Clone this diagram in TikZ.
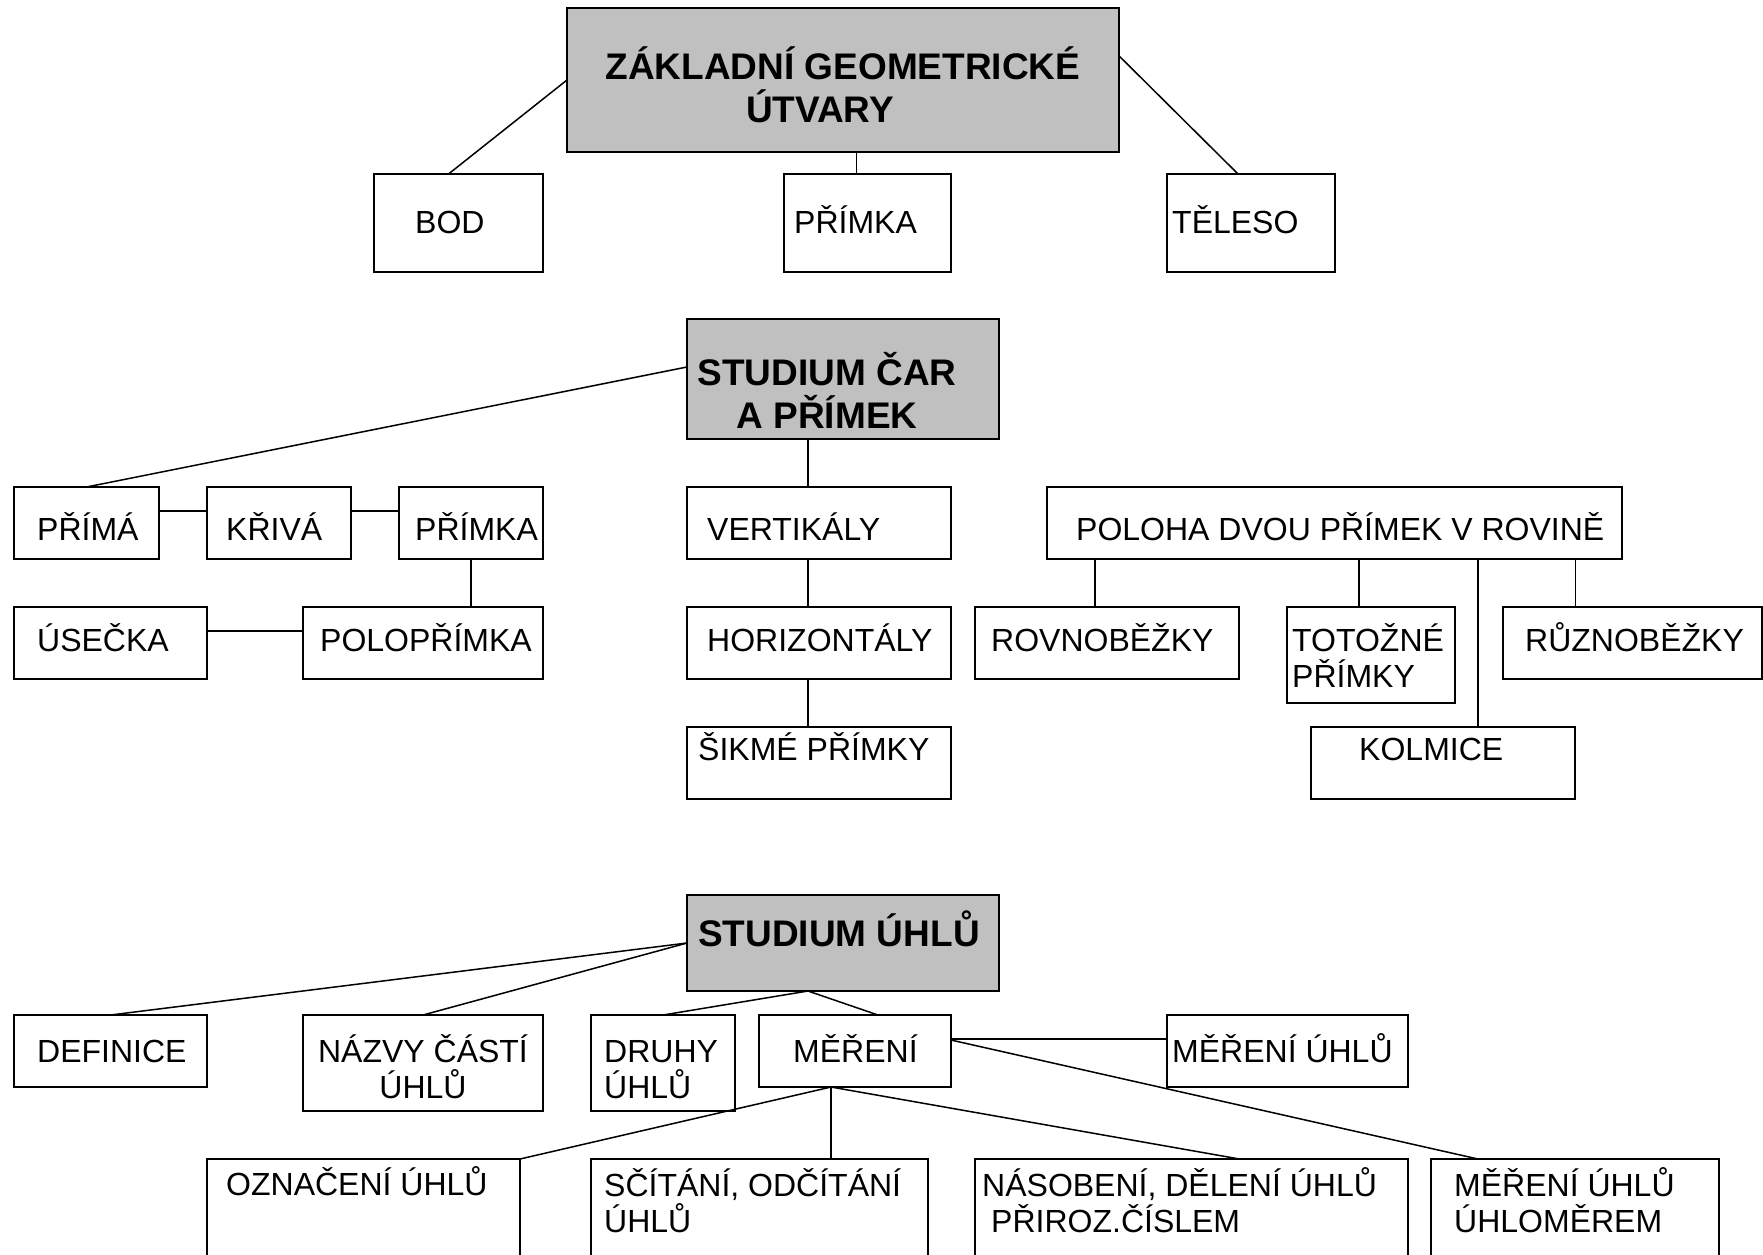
\documentclass[tikz,border=0pt]{standalone}
\usepackage{fontspec}
\setmainfont{Liberation Sans}
\usetikzlibrary{positioning,calc}
\definecolor{headgray}{RGB}{192,192,192}
\tikzset{
	box/.style={draw=black, line width=1.8pt, anchor=north west, inner sep=0pt, outer sep=0pt},
	headbox/.style={box, fill=headgray},
	txt/.style={anchor=base west, inner sep=0pt, align=left, font=\fontsize{32}{36}\selectfont},
	headtxt/.style={anchor=base, inner sep=0pt, align=center, font=\fontsize{37}{43}\selectfont\bfseries},
	link/.style={line width=1.5pt},
}
\begin{document}
\begin{tikzpicture}[x=1pt,y=-1pt]
		\useasboundingbox (0,0) rectangle (1763,1254);
		% zakladni utvary
		\node[headbox, minimum width=552, minimum height=144] (zakl) at (567,8) {};
		\node[box, minimum width=169, minimum height=98] (bod) at (374,174) {};
		\node[box, minimum width=167, minimum height=98] (primka) at (784,174) {};
		\node[box, minimum width=168, minimum height=98] (teleso) at (1167,174) {};
		
		\node[headtxt] (zaklt) at (843,122) {ZÁKLADNÍ GEOMETRICKÉ\\ÚTVARY\hspace*{46pt}};
		\node[txt] (bodt) at (415,233) {BOD};
		\node[txt] (primkat) at (794,233) {PŘÍMKA};
		\node[txt] (telesot) at (1172,233) {TĚLESO};
		
		\draw[link] (zakl.west)--([xshift=-10pt]bod.north);
		\draw[link] (zakl.5)--([xshift=-13pt]teleso.north);
		\draw[link] ([xshift=-11pt]primka.north)--([xshift=-11pt]primka.north |- zakl.south);
		
		% cary a primky
		\node[headbox, minimum width=312, minimum height=120] (car) at (687,319) {};
		\node[box, minimum width=145, minimum height=72] (prima) at (14,487) {};
		\node[box, minimum width=144, minimum height=72, right=48pt of prima] (kriva) {};
		\node[box, minimum width=144, minimum height=72, right=48pt of kriva] (primkab) {};
		\node[box, minimum width=193, minimum height=72] (usecka) at (14,607) {};
		\node[box, minimum width=240, minimum height=72] (polo) at (303,607) {};
		\node[box, minimum width=264, minimum height=72] (vert) at (687,487) {};
		\node[box, minimum width=264, minimum height=72, below=48pt of vert] (horiz) {};
		\node[box, minimum width=264, minimum height=72, below=48pt of horiz] (sikme) {};
		\node[box, minimum width=575, minimum height=72] (poloha) at (1047,487) {};
		\node[box, minimum width=264, minimum height=72] (rovno) at (975,607) {};
		\node[box, minimum width=168, minimum height=96] (totoz) at (1287,607) {};
		\node[box, minimum width=259, minimum height=72] (ruzno) at (1503,607) {};
		\node[box, minimum width=264, minimum height=72] (kolm) at (1311,727) {};
		
		\node[headtxt] (cart) at (827,428) {STUDIUM ČAR\\A PŘÍMEK};
		\node[txt] (primat) at (37,540) {PŘÍMÁ};
		\node[txt] (krivat) at (226,540) {KŘIVÁ};
		\node[txt] (primkabt) at (415,540) {PŘÍMKA};
		\node[txt] (useckat) at (37,651) {ÚSEČKA};
		\node[txt] (polot) at (320,651) {POLOPŘÍMKA};
		\node[txt] (vertt) at (707,540) {VERTIKÁLY};
		\node[txt] (horizt) at (707,651) {HORIZONTÁLY};
		\node[txt] (sikmet) at (698,760) {ŠIKMÉ PŘÍMKY};
		\node[txt] (polohat) at (1076,540) {POLOHA DVOU PŘÍMEK V ROVINĚ};
		\node[txt] (rovnot) at (991,651) {ROVNOBĚŽKY};
		\node[txt] (totozt) at (1292,687) {TOTOŽNÉ\\PŘÍMKY};
		\node[txt] (ruznot) at (1525,651) {RŮZNOBĚŽKY};
		\node[txt] (kolmt) at (1359,760) {KOLMICE};
		
		\draw[link] ([yshift=12pt]car.west)--(prima.north);
		\draw[link] ([yshift=12pt]prima.east)--([yshift=12pt]kriva.west);
		\draw[link] ([yshift=12pt]kriva.east)--([yshift=12pt]primkab.west);
		\draw[link] (primkab.south)--(primkab.south |- polo.north);
		\draw[link] ([yshift=12pt]usecka.east)--([yshift=12pt]usecka.east -| polo.west);
		\draw[link] ([xshift=-11pt]vert.north)--([xshift=-11pt]vert.north |- car.south);
		\draw[link] ([xshift=-11pt]vert.south)--([xshift=-11pt]horiz.north);
		\draw[link] ([xshift=-11pt]horiz.south)--([xshift=-11pt]sikme.north);
		\draw[link] ([xshift=-12pt]rovno.north)--([xshift=-12pt]rovno.north |- poloha.south);
		\draw[link] ([xshift=-12pt]totoz.north)--([xshift=-12pt]totoz.north |- poloha.south);
		\draw[link] ([xshift=35pt]kolm.north)--([xshift=35pt]kolm.north |- poloha.south);
		\draw[link] ([xshift=-57pt]ruzno.north)--([xshift=-57pt]ruzno.north |- poloha.south);
		
		% uhly
		\node[headbox, minimum width=312, minimum height=96] (uhly) at (687,895) {};
		\node[box, minimum width=193, minimum height=72] (defin) at (14,1015) {};
		\node[box, minimum width=240, minimum height=96] (nazvy) at (303,1015) {};
		\node[box, minimum width=144, minimum height=96] (druhy) at (591,1015) {};
		\node[box, minimum width=192, minimum height=72] (mereni) at (759,1015) {};
		\node[box, minimum width=241, minimum height=72] (merb) at (1167,1015) {};
		\node[box, minimum width=313, minimum height=120] (ozn) at (207,1159) {};
		\node[box, minimum width=337, minimum height=120] (scit) at (591,1159) {};
		\node[box, minimum width=433, minimum height=120] (nasob) at (975,1159) {};
		\node[box, minimum width=288, minimum height=120] (uhlomer) at (1431,1159) {};
		
		\node[headtxt, anchor=base west] (uhlyt) at (698,946) {STUDIUM ÚHLŮ};
		\node[txt] (defint) at (37,1062) {DEFINICE};
		\node[txt, anchor=base, align=center] (nazvyt) at (423,1098) {NÁZVY ČÁSTÍ\\ÚHLŮ};
		\node[txt] (druhyt) at (604,1098) {DRUHY\\ÚHLŮ};
		\node[txt] (merenit) at (793,1062) {MĚŘENÍ};
		\node[txt] (merbt) at (1172,1062) {MĚŘENÍ ÚHLŮ};
		\node[txt] (oznt) at (226,1195) {OZNAČENÍ ÚHLŮ};
		\node[txt] (scitt) at (604,1232) {SČÍTÁNÍ, ODČÍTÁNÍ\\ÚHLŮ};
		\node[txt] (nasobt) at (982,1232) {NÁSOBENÍ, DĚLENÍ ÚHLŮ\\\hspace*{9pt}PŘIROZ.ČÍSLEM};
		\node[txt] (uhlomert) at (1454,1232) {MĚŘENÍ ÚHLŮ\\ÚHLOMĚREM};
		
		\draw[link] (uhly.west)--(defin.north);
		\draw[link] (uhly.west)--(nazvy.north);
		\draw[link] ([xshift=-35pt]uhly.south)--(druhy.north);
		\draw[link] ([xshift=-35pt]uhly.south)--([xshift=23pt]mereni.north);
		\draw[link] ([yshift=12pt]mereni.east)--([yshift=12pt]merb.west);
		\draw[link] ([yshift=11pt]mereni.east)--([xshift=-97pt]uhlomer.north);
		\draw[link] ([xshift=-24pt]mereni.south)--(ozn.north east);
		\draw[link] ([xshift=-24pt]mereni.south)--([xshift=-24pt]mereni.south |- scit.north);
		\draw[link] ([xshift=-24pt]mereni.south)--([xshift=48pt]nasob.north);
	\end{tikzpicture}
\end{document}
